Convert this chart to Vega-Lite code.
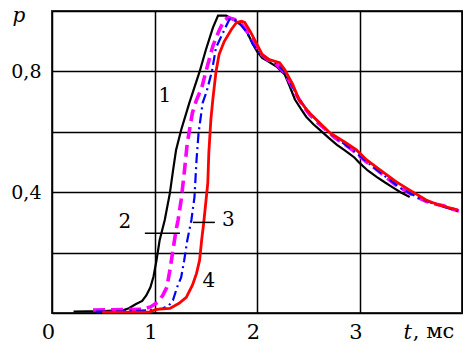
{
  "$schema": "https://vega.github.io/schema/vega-lite/v6.json",
  "width": 410,
  "height": 302,
  "autosize": "none",
  "padding": {"left": 52, "top": 11, "right": 1, "bottom": 29},
  "background": "white",
  "config": {
    "view": {"stroke": "#333", "strokeWidth": 2},
    "font": "DejaVu Serif"
  },
  "datasets": {
    "curves": [
      {"s": "1", "t": 0.21, "p": 0.005}, {"s": "1", "t": 0.5, "p": 0.006}, {"s": "1", "t": 0.7, "p": 0.01}, {"s": "1", "t": 0.75, "p": 0.016}, {"s": "1", "t": 0.82, "p": 0.03}, {"s": "1", "t": 0.88, "p": 0.04}, {"s": "1", "t": 0.92, "p": 0.058}, {"s": "1", "t": 0.96, "p": 0.085}, {"s": "1", "t": 0.99, "p": 0.12}, {"s": "1", "t": 1.02, "p": 0.175}, {"s": "1", "t": 1.05, "p": 0.241}, {"s": "1", "t": 1.1, "p": 0.308}, {"s": "1", "t": 1.15, "p": 0.397}, {"s": "1", "t": 1.18, "p": 0.47}, {"s": "1", "t": 1.21, "p": 0.539}, {"s": "1", "t": 1.26, "p": 0.606}, {"s": "1", "t": 1.34, "p": 0.696}, {"s": "1", "t": 1.44, "p": 0.799}, {"s": "1", "t": 1.5, "p": 0.87}, {"s": "1", "t": 1.57, "p": 0.945}, {"s": "1", "t": 1.62, "p": 0.985}, {"s": "1", "t": 1.7, "p": 0.985}, {"s": "1", "t": 1.8, "p": 0.965}, {"s": "1", "t": 1.86, "p": 0.95}, {"s": "1", "t": 1.91, "p": 0.925}, {"s": "1", "t": 1.96, "p": 0.89}, {"s": "1", "t": 2.0, "p": 0.866}, {"s": "1", "t": 2.05, "p": 0.845}, {"s": "1", "t": 2.1, "p": 0.835}, {"s": "1", "t": 2.19, "p": 0.816}, {"s": "1", "t": 2.27, "p": 0.79}, {"s": "1", "t": 2.32, "p": 0.75}, {"s": "1", "t": 2.37, "p": 0.707}, {"s": "1", "t": 2.43, "p": 0.675}, {"s": "1", "t": 2.48, "p": 0.65}, {"s": "1", "t": 2.55, "p": 0.625}, {"s": "1", "t": 2.61, "p": 0.607}, {"s": "1", "t": 2.7, "p": 0.58}, {"s": "1", "t": 2.78, "p": 0.557}, {"s": "1", "t": 2.85, "p": 0.54}, {"s": "1", "t": 2.9, "p": 0.528}, {"s": "1", "t": 2.95, "p": 0.515}, {"s": "1", "t": 3.0, "p": 0.497}, {"s": "1", "t": 3.08, "p": 0.472}, {"s": "1", "t": 3.17, "p": 0.45}, {"s": "1", "t": 3.25, "p": 0.432}, {"s": "1", "t": 3.32, "p": 0.417}, {"s": "1", "t": 3.4, "p": 0.4}, {"s": "1", "t": 3.49, "p": 0.384},
      {"s": "2", "t": 0.4, "p": 0.01}, {"s": "2", "t": 0.6, "p": 0.011}, {"s": "2", "t": 0.88, "p": 0.012}, {"s": "2", "t": 0.96, "p": 0.02}, {"s": "2", "t": 1.03, "p": 0.035}, {"s": "2", "t": 1.08, "p": 0.058}, {"s": "2", "t": 1.12, "p": 0.085}, {"s": "2", "t": 1.15, "p": 0.141}, {"s": "2", "t": 1.18, "p": 0.208}, {"s": "2", "t": 1.21, "p": 0.274}, {"s": "2", "t": 1.23, "p": 0.308}, {"s": "2", "t": 1.26, "p": 0.374}, {"s": "2", "t": 1.29, "p": 0.464}, {"s": "2", "t": 1.32, "p": 0.563}, {"s": "2", "t": 1.37, "p": 0.663}, {"s": "2", "t": 1.41, "p": 0.706}, {"s": "2", "t": 1.46, "p": 0.745}, {"s": "2", "t": 1.51, "p": 0.81}, {"s": "2", "t": 1.57, "p": 0.885}, {"s": "2", "t": 1.63, "p": 0.935}, {"s": "2", "t": 1.68, "p": 0.97}, {"s": "2", "t": 1.72, "p": 0.978}, {"s": "2", "t": 1.78, "p": 0.972}, {"s": "2", "t": 1.85, "p": 0.955}, {"s": "2", "t": 1.93, "p": 0.922}, {"s": "2", "t": 1.98, "p": 0.89}, {"s": "2", "t": 2.03, "p": 0.86}, {"s": "2", "t": 2.1, "p": 0.84}, {"s": "2", "t": 2.18, "p": 0.826}, {"s": "2", "t": 2.26, "p": 0.8}, {"s": "2", "t": 2.32, "p": 0.765}, {"s": "2", "t": 2.38, "p": 0.725}, {"s": "2", "t": 2.45, "p": 0.685}, {"s": "2", "t": 2.52, "p": 0.655}, {"s": "2", "t": 2.6, "p": 0.628}, {"s": "2", "t": 2.68, "p": 0.605}, {"s": "2", "t": 2.76, "p": 0.58}, {"s": "2", "t": 2.85, "p": 0.56}, {"s": "2", "t": 2.93, "p": 0.54}, {"s": "2", "t": 3.0, "p": 0.52}, {"s": "2", "t": 3.07, "p": 0.5}, {"s": "2", "t": 3.15, "p": 0.48}, {"s": "2", "t": 3.25, "p": 0.452}, {"s": "2", "t": 3.35, "p": 0.425}, {"s": "2", "t": 3.45, "p": 0.405}, {"s": "2", "t": 3.55, "p": 0.385}, {"s": "2", "t": 3.65, "p": 0.37}, {"s": "2", "t": 3.75, "p": 0.36}, {"s": "2", "t": 3.82, "p": 0.355}, {"s": "2", "t": 3.9, "p": 0.345}, {"s": "2", "t": 3.97, "p": 0.338},
      {"s": "3", "t": 0.43, "p": 0.005}, {"s": "3", "t": 0.7, "p": 0.006}, {"s": "3", "t": 0.95, "p": 0.009}, {"s": "3", "t": 1.08, "p": 0.015}, {"s": "3", "t": 1.14, "p": 0.025}, {"s": "3", "t": 1.18, "p": 0.042}, {"s": "3", "t": 1.22, "p": 0.085}, {"s": "3", "t": 1.26, "p": 0.118}, {"s": "3", "t": 1.29, "p": 0.175}, {"s": "3", "t": 1.32, "p": 0.241}, {"s": "3", "t": 1.36, "p": 0.308}, {"s": "3", "t": 1.39, "p": 0.384}, {"s": "3", "t": 1.41, "p": 0.507}, {"s": "3", "t": 1.43, "p": 0.596}, {"s": "3", "t": 1.47, "p": 0.696}, {"s": "3", "t": 1.51, "p": 0.735}, {"s": "3", "t": 1.56, "p": 0.8}, {"s": "3", "t": 1.6, "p": 0.879}, {"s": "3", "t": 1.66, "p": 0.922}, {"s": "3", "t": 1.73, "p": 0.972}, {"s": "3", "t": 1.78, "p": 0.972}, {"s": "3", "t": 1.84, "p": 0.955}, {"s": "3", "t": 1.9, "p": 0.93}, {"s": "3", "t": 1.96, "p": 0.89}, {"s": "3", "t": 2.02, "p": 0.862}, {"s": "3", "t": 2.1, "p": 0.842}, {"s": "3", "t": 2.18, "p": 0.828}, {"s": "3", "t": 2.26, "p": 0.802}, {"s": "3", "t": 2.33, "p": 0.76}, {"s": "3", "t": 2.4, "p": 0.715}, {"s": "3", "t": 2.47, "p": 0.68}, {"s": "3", "t": 2.55, "p": 0.65}, {"s": "3", "t": 2.62, "p": 0.626}, {"s": "3", "t": 2.7, "p": 0.6}, {"s": "3", "t": 2.78, "p": 0.577}, {"s": "3", "t": 2.86, "p": 0.558}, {"s": "3", "t": 2.94, "p": 0.538}, {"s": "3", "t": 3.02, "p": 0.515}, {"s": "3", "t": 3.1, "p": 0.493}, {"s": "3", "t": 3.2, "p": 0.466}, {"s": "3", "t": 3.3, "p": 0.44}, {"s": "3", "t": 3.4, "p": 0.414}, {"s": "3", "t": 3.5, "p": 0.395}, {"s": "3", "t": 3.6, "p": 0.378}, {"s": "3", "t": 3.7, "p": 0.365}, {"s": "3", "t": 3.8, "p": 0.354}, {"s": "3", "t": 3.88, "p": 0.345}, {"s": "3", "t": 3.96, "p": 0.338},
      {"s": "4", "t": 0.49, "p": 0.003}, {"s": "4", "t": 0.95, "p": 0.004}, {"s": "4", "t": 1.02, "p": 0.012}, {"s": "4", "t": 1.15, "p": 0.015}, {"s": "4", "t": 1.24, "p": 0.032}, {"s": "4", "t": 1.31, "p": 0.052}, {"s": "4", "t": 1.37, "p": 0.092}, {"s": "4", "t": 1.41, "p": 0.131}, {"s": "4", "t": 1.44, "p": 0.175}, {"s": "4", "t": 1.46, "p": 0.241}, {"s": "4", "t": 1.48, "p": 0.298}, {"s": "4", "t": 1.52, "p": 0.431}, {"s": "4", "t": 1.53, "p": 0.53}, {"s": "4", "t": 1.55, "p": 0.64}, {"s": "4", "t": 1.57, "p": 0.71}, {"s": "4", "t": 1.6, "p": 0.799}, {"s": "4", "t": 1.63, "p": 0.856}, {"s": "4", "t": 1.68, "p": 0.899}, {"s": "4", "t": 1.75, "p": 0.939}, {"s": "4", "t": 1.8, "p": 0.962}, {"s": "4", "t": 1.85, "p": 0.966}, {"s": "4", "t": 1.88, "p": 0.962}, {"s": "4", "t": 1.93, "p": 0.935}, {"s": "4", "t": 1.99, "p": 0.896}, {"s": "4", "t": 2.05, "p": 0.856}, {"s": "4", "t": 2.12, "p": 0.839}, {"s": "4", "t": 2.22, "p": 0.829}, {"s": "4", "t": 2.27, "p": 0.806}, {"s": "4", "t": 2.35, "p": 0.756}, {"s": "4", "t": 2.41, "p": 0.706}, {"s": "4", "t": 2.51, "p": 0.663}, {"s": "4", "t": 2.61, "p": 0.63}, {"s": "4", "t": 2.71, "p": 0.597}, {"s": "4", "t": 2.87, "p": 0.563}, {"s": "4", "t": 2.97, "p": 0.54}, {"s": "4", "t": 3.07, "p": 0.507}, {"s": "4", "t": 3.2, "p": 0.474}, {"s": "4", "t": 3.36, "p": 0.434}, {"s": "4", "t": 3.49, "p": 0.407}, {"s": "4", "t": 3.65, "p": 0.374}, {"s": "4", "t": 3.78, "p": 0.357}, {"s": "4", "t": 3.96, "p": 0.341}
    ],
    "labels": [
      {"t": 1.1, "p": 0.717, "txt": "1"},
      {"t": 0.71, "p": 0.3, "txt": "2"},
      {"t": 1.72, "p": 0.307, "txt": "3"},
      {"t": 1.53, "p": 0.105, "txt": "4"}
    ],
    "leaders": [
      {"t": 0.906, "t2": 1.248, "p": 0.264},
      {"t": 1.374, "t2": 1.589, "p": 0.3}
    ],
    "unit": [
      {"t": 3.52, "p": -0.083, "txt": ", мс"}
    ]
  },
  "encoding": {
    "x": {
      "field": "t", "type": "quantitative",
      "scale": {"domain": [0, 4], "nice": false},
      "axis": {
        "values": [0, 1, 2, 3, 4],
        "labelExpr": "datum.value == 4 ? '' : format(datum.value, 'd')",
        "domain": false, "ticks": false,
        "grid": true, "gridColor": "black", "gridWidth": 1.5, "gridOpacity": 1,
        "labelFont": "DejaVu Serif", "labelFontSize": 21, "labelColor": "black",
        "labelPadding": 8, "labelFlush": false, "labelOffset": -4,
        "title": "t", "titleFont": "DejaVu Serif", "titleFontSize": 21,
        "titleFontStyle": "italic", "titleFontWeight": "normal", "titleColor": "black",
        "titleX": 351, "titleY": 25, "titleAlign": "left", "titleBaseline": "alphabetic"
      }
    },
    "y": {
      "field": "p", "type": "quantitative",
      "scale": {"domain": [0, 1], "nice": false},
      "axis": {
        "values": [0, 0.2, 0.4, 0.6, 0.8, 1],
        "labelExpr": "datum.value == 0.4 ? '0,4' : (datum.value == 0.8 ? '0,8' : '')",
        "domain": false, "ticks": false,
        "grid": true, "gridColor": "black", "gridWidth": 1.5, "gridOpacity": 1,
        "labelFont": "DejaVu Serif", "labelFontSize": 19, "labelColor": "black",
        "labelPadding": 11,
        "title": "p", "titleFont": "DejaVu Serif", "titleFontSize": 20,
        "titleFontStyle": "italic", "titleFontWeight": "normal", "titleColor": "black",
        "titleAngle": 0, "titleX": -40, "titleY": 10, "titleAlign": "left", "titleBaseline": "alphabetic"
      }
    }
  },
  "layer": [
    {
      "data": {"name": "curves"},
      "transform": [{"filter": "datum.s == '1'"}],
      "mark": {"type": "line", "color": "#000000", "strokeWidth": 2.2, "clip": false}
    },
    {
      "data": {"name": "curves"},
      "transform": [{"filter": "datum.s == '2'"}],
      "mark": {"type": "line", "color": "#ff00ff", "strokeWidth": 3.6, "strokeDash": [12, 6], "clip": false}
    },
    {
      "data": {"name": "curves"},
      "transform": [{"filter": "datum.s == '3'"}],
      "mark": {"type": "line", "color": "#0000ff", "strokeWidth": 2.2, "strokeDash": [10, 4, 2, 4], "clip": false}
    },
    {
      "data": {"name": "curves"},
      "transform": [{"filter": "datum.s == '4'"}],
      "mark": {"type": "line", "color": "#ff0000", "strokeWidth": 2.8, "clip": false}
    },
    {
      "data": {"name": "leaders"},
      "mark": {"type": "rule", "color": "black", "strokeWidth": 1.5},
      "encoding": {
        "x2": {"field": "t2"}
      }
    },
    {
      "data": {"name": "labels"},
      "mark": {"type": "text", "font": "DejaVu Serif", "fontSize": 20, "color": "black", "baseline": "middle", "align": "center"},
      "encoding": {
        "text": {"field": "txt"}
      }
    },
    {
      "data": {"name": "unit"},
      "mark": {"type": "text", "font": "DejaVu Serif", "fontSize": 21, "color": "black", "baseline": "alphabetic", "align": "left", "clip": false},
      "encoding": {
        "text": {"field": "txt"}
      }
    }
  ]
}
